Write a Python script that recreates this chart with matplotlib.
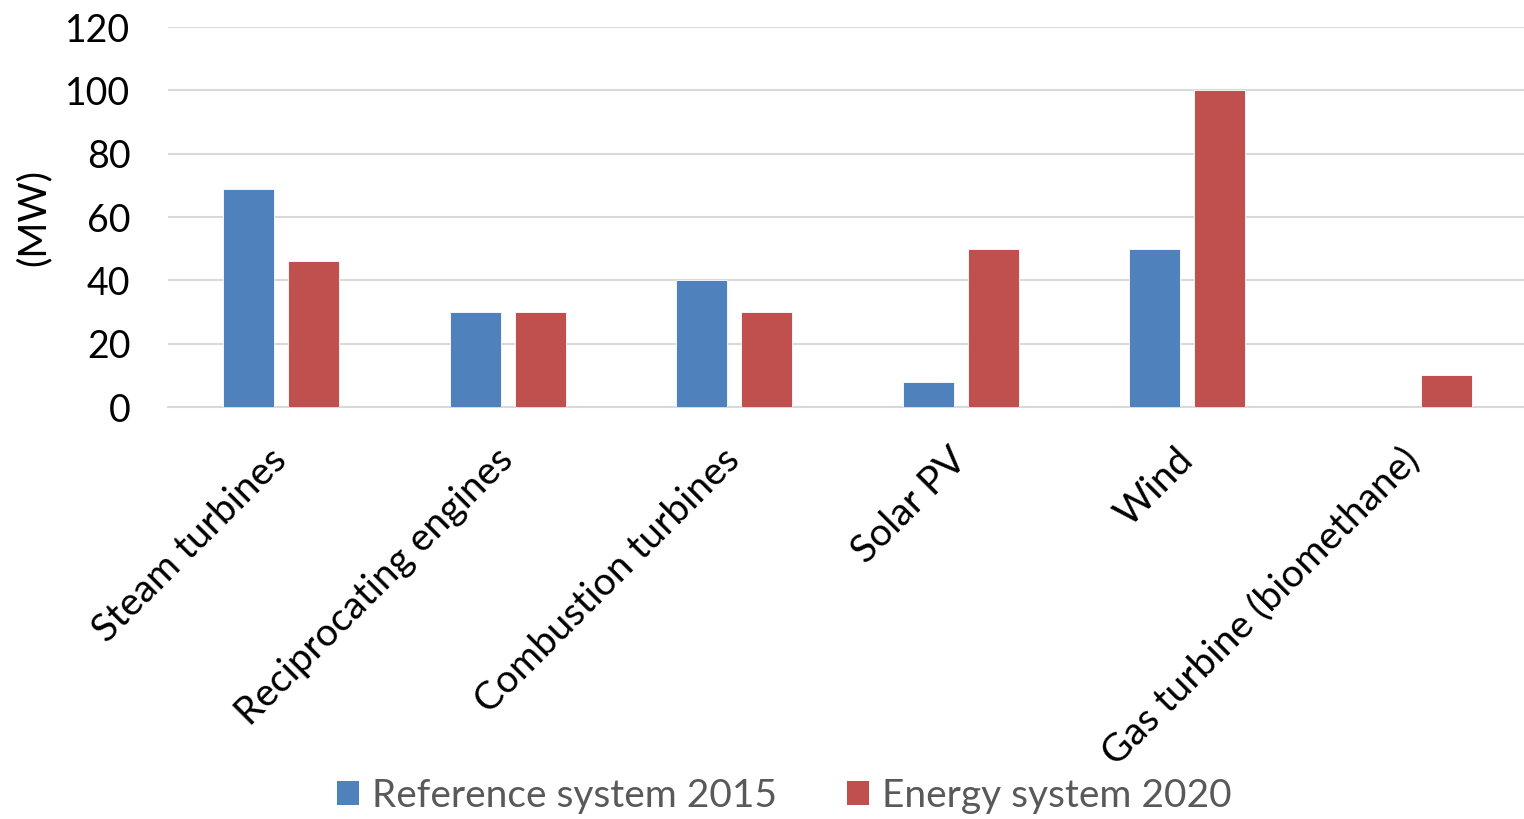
import matplotlib
import numpy as np

matplotlib.use('Agg')
import matplotlib.pyplot as plt  # noqa: E402
from matplotlib.patches import Patch  # noqa: E402

CATEGORIES = ['Steam turbines', 'Reciprocating engines', 'Combustion turbines',
              'Solar PV', 'Wind', 'Gas turbine (biomethane)']
REF_2015 = [69, 30, 40, 8, 50, 0]
ENERGY_2020 = [46, 30, 30, 50, 100, 10]
SERIES = [('Reference system 2015', REF_2015, '#4F81BD'),
          ('Energy system 2020', ENERGY_2020, '#C0504D')]
YTICKS = [0, 20, 40, 60, 80, 100, 120]

plt.rcParams['font.family'] = ['Lato', 'DejaVu Sans']

W, H = 1524, 819
fig = plt.figure(figsize=(W / 100, H / 100), dpi=100)
ax = fig.add_axes([168 / W, (H - 407) / H, (1527 - 168) / W, 380 / H])

x = np.arange(len(CATEGORIES))
width, offset = 0.226, 0.144
for i, (label, vals, color) in enumerate(SERIES):
    ax.bar(x + (2 * i - 1) * offset, vals, width, color=color,
           edgecolor='white', linewidth=0.6, zorder=3, label=label)

ax.set_xlim(-0.5, len(CATEGORIES) - 0.5)
ax.set_ylim(0, 120)
ax.set_yticks(YTICKS)
ax.yaxis.grid(True, color='#D9D9D9', linewidth=1.5, zorder=0)
for s in ['top', 'right', 'left']:
    ax.spines[s].set_visible(False)
ax.spines['bottom'].set_color('#D9D9D9')
ax.spines['bottom'].set_linewidth(1.5)
ax.tick_params(axis='both', length=0, labelsize=27, colors='black')
ax.tick_params(axis='y', pad=27)

ax.set_xticks(x)
ax.set_xticklabels(CATEGORIES, rotation=45, ha='right', va='center',
                   rotation_mode='anchor', fontsize=28)
ax.tick_params(axis='x', pad=34)

fig.text(34 / W, 1 - 217 / H, '(MW)', rotation=90, ha='center', va='center',
         fontsize=28)

handles = [Patch(facecolor=c, label=l) for l, _, c in SERIES]
fig.legend(handles=handles, loc='center', bbox_to_anchor=(784 / W, 1 - 796 / H),
           ncol=2, frameon=False, fontsize=28, labelcolor='#595959',
           handlelength=0.57, handleheight=0.57, handletextpad=0.33,
           columnspacing=1.8)

fig.savefig('out.png', dpi=100)
